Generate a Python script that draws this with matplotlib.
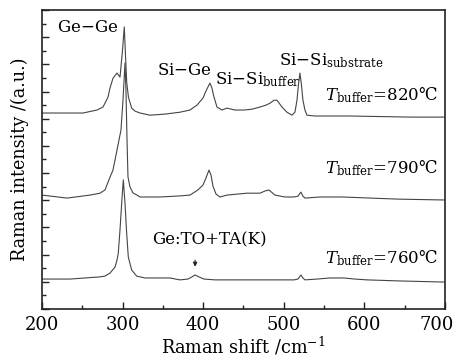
import matplotlib
matplotlib.use("Agg")
import matplotlib.pyplot as plt
from matplotlib.ticker import MultipleLocator, NullFormatter
from matplotlib.transforms import ScaledTranslation

plt.rcParams['font.family'] = ['DejaVu Serif', 'DejaVu Sans', 'Noto Sans CJK SC']
plt.rcParams['mathtext.fontset'] = 'dejavuserif'

# Raman shift (cm^-1) and intensity (a.u., stacked) for each buffer temperature
x_820 = [200, 250.9, 268.2, 275.7, 281.9, 284.4, 288.1, 293.1, 296.8, 299.9, 302.1, 303.6,
         305.1, 307.3, 311.3, 315.4, 321.6, 334, 352.6, 371.2, 383.6, 392.3, 399.8, 403.5,
         406, 408.4, 410.9, 412.8, 417.1, 423.3, 429.5, 439.5, 450.6, 460.5, 470.5, 477.9,
         482.9, 487.8, 491.6, 497.8, 504, 510.2, 513.9, 516.4, 518.2, 520.1, 522, 523.8,
         526.3, 528.8, 538.7, 553.6, 582.1, 619.4, 656.6, 698.8]
y_820 = [7.21, 7.21, 7.32, 7.43, 7.79, 8.13, 8.49, 8.68, 8.53, 9.52, 10.38, 9.34,
         8.35, 7.79, 7.39, 7.28, 7.21, 7.13, 7.17, 7.24, 7.32, 7.50, 7.76, 8.02,
         8.17, 8.31, 8.13, 7.87, 7.43, 7.32, 7.39, 7.32, 7.32, 7.35, 7.43, 7.50,
         7.57, 7.68, 7.68, 7.43, 7.24, 7.13, 7.24, 7.68, 8.24, 8.68, 8.24, 7.68,
         7.32, 7.13, 7.10, 7.10, 7.10, 7.08, 7.06, 7.06]

x_790 = [200, 231, 259.6, 272, 278.2, 284.4, 288.1, 290.6, 294.3, 298, 300.5, 303,
         304.2, 305.5, 306.7, 309.2, 312.9, 317.9, 321.6, 346.4, 371.2, 383.6, 393.5,
         399.8, 403.5, 407.2, 409.7, 412.2, 415.9, 420.8, 429.5, 454.3, 470.5, 476.7,
         481.6, 489.1, 501.5, 512.7, 517.6, 521.3, 523.8, 526.3, 545, 573.4, 606.9,
         644.2, 698.8]
y_790 = [4.19, 4.08, 4.19, 4.26, 4.38, 4.85, 5.11, 5.48, 6.03, 6.58, 7.69, 9.05,
         8.05, 6.22, 4.86, 4.49, 4.27, 4.19, 4.12, 4.12, 4.16, 4.19, 4.38,
         4.56, 4.82, 5.11, 4.93, 4.52, 4.23, 4.12, 4.19, 4.26, 4.26, 4.34,
         4.38, 4.19, 4.12, 4.12, 4.15, 4.30, 4.15, 4.08, 4.12, 4.12, 4.08,
         4.04, 4.01]

x_760 = [200, 234.7, 272, 278.2, 284.4, 290.6, 293.1, 294.7, 296.8, 298.9, 300.9, 303,
         304.8, 307.1, 311.3, 317.5, 327.8, 358.8, 371.2, 381.1, 386.1, 389.8, 394.8,
         401, 414.6, 429.5, 470.5, 512.7, 517.6, 521.3, 523.8, 526.3, 541.2, 557.3,
         574.7, 588.3, 603.2, 644.2, 698.8]
y_760 = [1.10, 1.10, 1.18, 1.21, 1.32, 1.54, 1.80, 2.06, 2.91, 3.90, 4.75, 3.90,
         2.91, 1.91, 1.43, 1.21, 1.14, 1.14, 1.07, 1.10, 1.18, 1.25, 1.18,
         1.10, 1.07, 1.07, 1.07, 1.07, 1.10, 1.25, 1.14, 1.07, 1.10, 1.14,
         1.14, 1.10, 1.07, 1.03, 0.99]

x_ticks = [200, 300, 400, 500, 600, 700]
temps = ["820", "790", "760"]

fig = plt.figure(figsize=(4.54, 3.58), dpi=100)
ax = fig.add_axes([0.0925, 0.137, 0.8875, 0.835])

lc = '#444444'
for xs, ys in [(x_820, y_820), (x_790, y_790), (x_760, y_760)]:
    ax.plot(xs, ys, color=lc, lw=0.8)

ax.set_xlim(200, 700)
ax.set_ylim(0, 11)
ax.set_xticks(x_ticks)
ax.xaxis.set_minor_locator(MultipleLocator(50))
ax.yaxis.set_major_locator(MultipleLocator(1))
ax.yaxis.set_minor_locator(MultipleLocator(0.5))
ax.yaxis.set_major_formatter(NullFormatter())
ax.tick_params(which='both', direction='in', top=False, right=False, labelsize=13,
               color='#222222', pad=5)
ax.tick_params(which='major', length=5, width=1)
ax.tick_params(which='minor', length=3, width=1)
for s in ax.spines.values():
    s.set_linewidth(1.2)
    s.set_color('#222222')

# nudge the last tick label left so it stays inside the figure
last = ax.xaxis.get_major_ticks()[-1].label1
last.set_transform(last.get_transform() + ScaledTranslation(-8 / 100, 0, fig.dpi_scale_trans))

ax.set_xlabel(r"Raman shift /cm$^{-1}$", fontsize=12.7, labelpad=1)
ax.set_ylabel("Raman intensity /(a.u.)", fontsize=12.7, labelpad=4)

fs = 12
ax.text(218.6, 10.37, "Ge$-$Ge", fontsize=fs, va='center', ha='left')
ax.text(342.7, 8.79, "Si$-$Ge", fontsize=fs, va='center', ha='left')
ax.text(414.6, 8.42, r"Si$-$Si$_{\mathrm{buffer}}$", fontsize=fs, va='center', ha='left')
ax.text(494, 9.15, r"Si$-$Si$_{\mathrm{substrate}}$", fontsize=fs, va='center', ha='left')
for t, yy in zip(temps, [7.87, 5.18, 1.875]):
    ax.text(551, yy, r"$T_{\mathrm{buffer}}$=" + t + "℃", fontsize=fs, va='center', ha='left')
ax.text(336.5, 2.54, "Ge:TO+TA(K)", fontsize=fs, va='center', ha='left')
ax.annotate("", xy=(390, 1.45), xytext=(390, 1.9),
            arrowprops=dict(arrowstyle='-|>', color='#222222', lw=0.8, mutation_scale=6))

fig.savefig("out.png", dpi=100)
